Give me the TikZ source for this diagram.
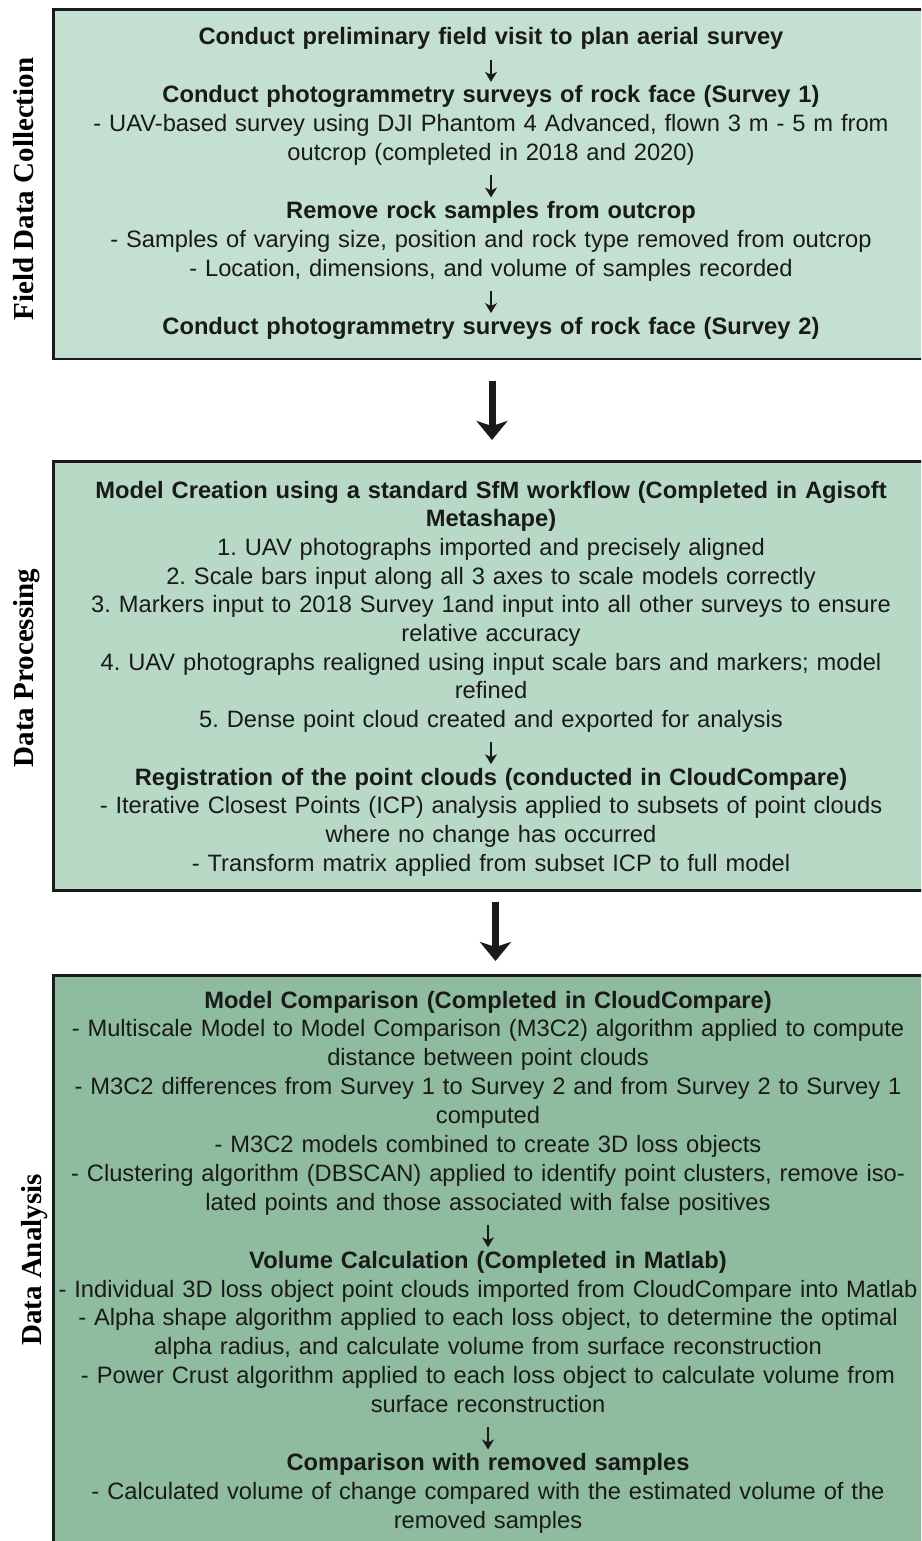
\documentclass[tikz,border=0pt]{standalone}
\usepackage{fontspec}
\setmainfont{Liberation Sans}
\newfontfamily\labelfont{Liberation Serif}
\usetikzlibrary{arrows.meta}

\definecolor{ink}{HTML}{1A1A1A}
\definecolor{edge}{HTML}{1A1A1A}
\definecolor{fieldfill}{HTML}{C3E0D0}
\definecolor{procfill}{HTML}{B8D9C6}
\definecolor{anafill}{HTML}{8FBC9F}

\frenchspacing

\begin{document}
\begin{tikzpicture}[x=1pt,y=-1pt,
  panel/.style={draw=edge, line width=2.6pt, inner sep=0pt, anchor=north west, minimum width=920pt},
  stepbox/.style={anchor=base, inner sep=0pt, text width=900pt, align=center, text=ink,
                  font=\fontsize{23.7}{#1}\selectfont\frenchspacing},
  stepbox/.default=28.9,
  flow/.style={draw=ink, line width=1.3pt, -{Stealth[length=10pt,width=12pt,inset=3pt]},
               shorten <=6pt, shorten >=0.5pt},
  stage/.style={draw=ink, line width=7pt, -{Stealth[length=19pt,width=31pt,inset=5pt]}},
  sidelabel/.style={rotate=90, anchor=base, inner sep=0pt, text=black,
                    font=\labelfont\bfseries\fontsize{29}{34}\selectfont}
]
\clip (0,0) rectangle (921,1541);

% stage panels
\node[panel, fill=fieldfill, minimum height=349.5pt] (b1) at (52,8) {};
\node[panel, fill=procfill,  minimum height=429pt]   (b2) at (52,460) {};
\node[panel, fill=anafill,   minimum height=620pt]   (b3) at (52,974) {};

% stage titles
\node[sidelabel] (l1) at (33,189)  {Field Data Collection};
\node[sidelabel] (l2) at (33,668)  {Data Processing};
\node[sidelabel] (l3) at (41,1260) {Data Analysis};

% field data collection
\node[stepbox] (s11) at (491,45)
  {\strut\textbf{Conduct preliminary field visit to plan aerial survey}\strut};
\node[stepbox] (s12) at (491,102.8)
  {\strut\textbf{Conduct photogrammetry surveys of rock face (Survey 1)}\\
   - UAV-based survey using DJI Phantom 4 Advanced, flown 3 m - 5 m from\\
   outcrop (completed in 2018 and 2020)\strut};
\node[stepbox] (s13) at (491,218.4)
  {\strut\textbf{Remove rock samples from outcrop}\\
   - Samples of varying size, position and rock type removed from outcrop\\
   - Location, dimensions, and volume of samples recorded\strut};
\node[stepbox] (s14) at (491,334)
  {\strut\textbf{Conduct photogrammetry surveys of rock face (Survey 2)}\strut};

% data processing
\node[stepbox=28.7] (s21) at (491,498)
  {\strut\textbf{Model Creation using a standard SfM workflow (Completed in Agisoft}\\
   \textbf{Metashape)}\\
   1. UAV photographs imported and precisely aligned\\
   2. Scale bars input along all 3 axes to scale models correctly\\
   3. Markers input to 2018 Survey 1and input into all other surveys to ensure\\
   relative accuracy\\
   4. UAV photographs realigned using input scale bars and markers; model\\
   refined\\
   5. Dense point cloud created and exported for analysis\strut};
\node[stepbox=28.7] (s22) at (491,785)
  {\strut\textbf{Registration of the point clouds (conducted in CloudCompare)}\\
   - Iterative Closest Points (ICP) analysis applied to subsets of point clouds\\
   where no change has occurred\\
   - Transform matrix applied from subset ICP to full model\strut};

% data analysis
\node[stepbox] (s31) at (488,1008)
  {\strut\textbf{Model Comparison (Completed in CloudCompare)}\\
   - Multiscale Model to Model Comparison (M3C2) algorithm applied to compute\\
   distance between point clouds\\
   - M3C2 differences from Survey 1 to Survey 2 and from Survey 2 to Survey 1\\
   computed\\
   - M3C2 models combined to create 3D loss objects\\
   - Clustering algorithm (DBSCAN) applied to identify point clusters, remove iso-\\
   lated points and those associated with false positives\strut};
\node[stepbox] (s32) at (488,1268.1)
  {\strut\textbf{Volume Calculation (Completed in Matlab)}\\
   - Individual 3D loss object point clouds imported from CloudCompare into Matlab\\
   - Alpha shape algorithm applied to each loss object, to determine the optimal\\
   alpha radius, and calculate volume from surface reconstruction\\
   - Power Crust algorithm applied to each loss object to calculate volume from\\
   surface reconstruction\strut};
\node[stepbox] (s33) at (488,1470.4)
  {\strut\textbf{Comparison with removed samples}\\
   - Calculated volume of change compared with the estimated volume of the\\
   removed samples\strut};

% steps within each stage
\draw[flow] (s11.south) -- (s12.north);
\draw[flow] (s12.south) -- (s13.north);
\draw[flow] (s13.south) -- (s14.north);
\draw[flow] (s21.south) -- (s22.north);
\draw[flow] (s31.south) -- (s32.north);
\draw[flow] (s32.south) -- (s33.north);

% stage to stage
\coordinate (ax1) at (492,0);
\coordinate (ax2) at (495.5,0);
\draw[stage, shorten <=20.5pt, shorten >=20pt] (b1.south -| ax1) -- (b2.north -| ax1);
\draw[stage, shorten <=10pt, shorten >=13pt] (b2.south -| ax2) -- (b3.north -| ax2);
\end{tikzpicture}
\end{document}
